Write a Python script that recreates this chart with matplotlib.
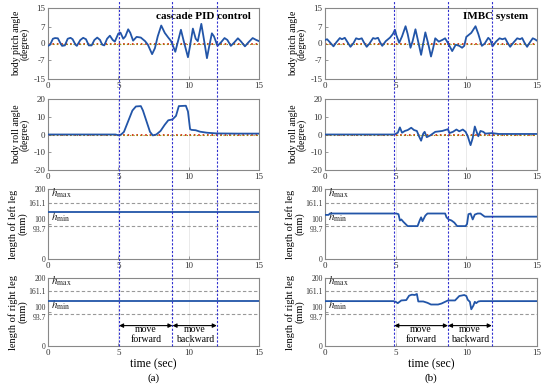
import matplotlib
matplotlib.use("Agg")
import matplotlib.pyplot as plt
import matplotlib.transforms as mtransforms
from matplotlib.lines import Line2D

plt.rcParams['font.family'] = ['Liberation Serif', 'DejaVu Serif']
plt.rcParams['mathtext.fontset'] = 'stix'
plt.rcParams['axes.unicode_minus'] = False

# ---------------- data ----------------
# (a) cascade PID control
pitch_a_t = [0, 0.15, 0.35, 0.5, 0.7, 0.85, 1.0, 1.2, 1.4, 1.6, 1.75, 1.95, 2.05, 2.3, 2.5, 2.7, 2.9,
             3.1, 3.3, 3.5, 3.7, 3.85, 4.0, 4.2, 4.4, 4.6, 4.75, 5.0, 5.15, 5.35, 5.5, 5.7, 5.85, 6.05,
             6.3, 6.6, 6.9, 7.1, 7.4, 7.6, 7.8, 8.05, 8.3, 8.55, 8.75, 9.05, 9.2, 9.45, 9.65, 9.95,
             10.1, 10.3, 10.5, 10.65, 10.9, 11.05, 11.3, 11.45, 11.65, 11.8, 12.05, 12.3, 12.55,
             12.75, 13.0, 13.25, 13.5, 13.7, 14.0, 14.25, 14.55, 14.8, 15.0]
pitch_a_v = [-1.0, -0.5, 2.0, 2.3, 2.2, 0.5, -1.0, -0.8, 2.0, 2.4, 1.8, -0.5, -1.0, 1.5, 2.4, 1.8, -0.8,
             -0.8, 1.5, 2.5, 1.5, -0.5, -0.8, 2.0, 3.3, 1.5, 0.8, 4.2, 4.6, 2.0, 3.0, 6.0, 4.5, 1.2,
             2.8, 2.5, 1.0, -0.5, -4.5, -2.0, 3.0, 7.6, 4.5, 2.5, 1.0, -3.5, 0.0, 5.8, 1.0, -5.8,
             -1.0, 6.3, 2.0, 1.0, 8.3, 3.0, -6.2, -1.5, 4.3, 3.0, -1.0, 0.5, 2.3,
             1.5, -1.0, 0.5, 2.2, 1.0, -1.2, 0.5, 2.3, 1.5, 1.0]

roll_a_t = [0, 4.8, 5.0, 5.2, 5.4, 5.7, 6.0, 6.25, 6.6, 6.75, 7.0, 7.25, 7.45, 7.7, 8.0, 8.3, 8.55,
            8.85, 9.1, 9.3, 9.8, 9.95, 10.1, 10.2, 10.5, 10.8, 11.3, 12.0, 13.5, 15.0]
roll_a_v = [0.0, 0.0, -0.4, 0.0, 1.5, 7.5, 13.5, 15.8, 16.0, 13.5, 7.5, 1.5, -0.5, 0.0, 2.0, 5.5, 8.0,
            8.5, 10.5, 16.0, 16.2, 13.0, 3.0, 2.6, 2.4, 1.6, 1.0, 0.6, 0.5, 0.5]

left_a_t = [0, 15]
left_a_v = [133, 133]
right_a_t = [0, 15]
right_a_v = [131, 131]

# (b) IMBC system
pitch_b_t = [0.0, 0.15, 0.35, 0.6, 0.8, 1.05, 1.2, 1.4, 1.6, 1.8, 2.0, 2.2, 2.4, 2.6, 2.75, 2.95,
             3.15, 3.4, 3.55, 3.75, 3.9, 4.05, 4.3, 4.6, 4.8, 4.95, 5.05, 5.25, 5.45, 5.7, 5.85,
             6.05, 6.2, 6.4, 6.55, 6.8, 6.95, 7.1, 7.3, 7.5, 7.65, 7.8, 8.05, 8.3, 8.5, 8.7, 9.0,
             9.25, 9.5, 9.7, 9.85, 10.0, 10.35, 10.65, 10.85, 11.1, 11.3, 11.55, 11.7, 11.85,
             12.1, 12.35, 12.55, 12.75, 12.9, 13.1, 13.35, 13.6, 13.8, 13.95, 14.1, 14.3, 14.5,
             14.7, 14.85, 15.0]
pitch_b_v = [1.5, 1.8, 0.5, -1.2, 0.5, 2.3, 1.8, 2.4, 0.5, -1.4, 0.0, 2.2, 1.8, 2.2, 0.5, -1.4,
             0.0, 2.3, 2.0, 2.4, 0.5, -1.0, 1.0, 2.5, 4.0, 5.8, 3.5, 0.3, 3.0, 7.3, 4.0,
             -1.8, 1.0, 6.0, 2.0, -4.8, 0.0, 4.7, 0.0, -5.5, -2.0, 2.2, 0.8, 1.5, 2.2, 0.2, -3.2,
             -0.5, -1.0, -1.8, -1.0, 2.8, 4.5, 7.3, 4.0, -1.0, 0.0, 2.4, 1.5, -1.2,
             0.8, 2.2, 1.8, 2.2, 0.5, -1.4, 0.5, 2.2, 1.8, 2.3, 0.5, -1.4, 0.5,
             2.2, 1.8, 1.2]

roll_b_t = [0, 4.9, 5.15, 5.3, 5.45, 5.65, 5.85, 6.1, 6.3, 6.5, 6.65, 6.8, 6.95, 7.05, 7.2, 7.45,
            7.8, 8.3, 8.7, 8.8, 9.05, 9.3, 9.5, 9.75, 9.95, 10.1, 10.3, 10.45, 10.6, 10.75, 10.85,
            11.0, 11.2, 11.35, 11.8, 12.3, 15.0]
roll_b_v = [0.0, 0.0, 1.0, 4.0, 1.0, 2.0, 2.5, 3.8, 2.5, 2.0, -1.0, -3.5, 0.5, 1.5, -1.5, -0.5,
            1.5, 2.0, 3.0, 0.8, 1.5, 2.8, 1.8, 2.8, 1.5, -1.0, -6.0, -2.0, 4.5, 1.0, -1.0,
            2.0, 1.5, 0.5, 0.8, 0.3, 0.3]

left_b_t = [0, 0.25, 0.35, 5.05, 5.2, 5.3, 5.4, 5.55, 5.85, 6.55, 6.7, 6.8, 6.9, 7.1, 7.25, 8.5,
            8.6, 8.75, 8.95, 9.15, 9.35, 9.95, 10.05, 10.15, 10.3, 10.45, 10.6, 10.8, 11.0, 11.3, 15.0]
left_b_v = [126, 126, 130, 130, 128, 110, 113, 106, 94, 94, 110, 119, 108, 124, 130, 130,
            119, 113, 110, 104, 94, 94, 100, 128, 130, 113, 127, 130, 130, 121, 121]

right_b_t = [0, 4.85, 5.0, 5.15, 5.4, 5.75, 5.95, 6.15, 6.35, 6.5, 6.6, 6.95, 7.25, 7.5, 8.0, 8.25,
             8.5, 8.7, 9.2, 9.5, 9.85, 10.0, 10.1, 10.25, 10.35, 10.5, 10.6, 10.7, 10.85, 11.0, 15.0]
right_b_v = [132, 132, 130, 126, 134, 135, 148, 151, 150, 153, 131, 131, 127, 122, 122, 125,
             130, 134, 134, 147, 150, 147, 136, 130, 108, 119, 130, 126, 131, 132, 132]

events_a = [5.05, 8.85, 12.0]
events_b = [4.9, 8.7, 11.8]
titles = ["cascade PID control", "IMBC system"]
panel_tags = ["(a)", "(b)"]
h_max, h_min = 161.1, 93.7
leg_ticks = [0, 93.7, 100, 161.1, 200]
pitch_ticks = [-15, -7, 0, 7, 15]
roll_ticks = [-20, -10, 0, 10, 20]
x_ticks = [0, 5, 10, 15]
row_labels = ["body pitch angle\n(degree)", "body roll angle\n(degree)",
              "length of left leg\n(mm)", "length of right leg\n(mm)"]

# ---------------- figure ----------------
W, H = 550, 385
fig = plt.figure(figsize=(W / 100, H / 100), dpi=100)

col_x = [48, 325]
col_w = [211, 212]
row_px = [(8, 79), (99, 170), (189, 259), (278, 346)]

line_col = '#2255a8'
ev_col = '#3030d0'
spine_col = '#888888'

cols = [
    dict(pitch=(pitch_a_t, pitch_a_v), roll=(roll_a_t, roll_a_v),
         left=(left_a_t, left_a_v), right=(right_a_t, right_a_v), ev=events_a),
    dict(pitch=(pitch_b_t, pitch_b_v), roll=(roll_b_t, roll_b_v),
         left=(left_b_t, left_b_v), right=(right_b_t, right_b_v), ev=events_b),
]

for c, cd in enumerate(cols):
    axes = []
    for r in range(4):
        top, bot = row_px[r]
        ax = fig.add_axes([col_x[c] / W, 1 - bot / H, col_w[c] / W, (bot - top) / H])
        axes.append(ax)
        ax.set_xlim(0, 15)
        ax.set_xticks(x_ticks)
        for s in ax.spines.values():
            s.set_color(spine_col)
            s.set_linewidth(0.8)
        ax.tick_params(direction='in', length=2, width=0.6, colors=spine_col,
                       labelsize=6.5, labelcolor='#333333', pad=2)
        ax.grid(True, axis='x', color='#e6e6e6', lw=0.6)
        ax.set_axisbelow(True)

        key = ['pitch', 'roll', 'left', 'right'][r]
        t, v = cd[key]
        if r < 2:
            ax.axhline(0, color='#d02000', ls=':', lw=1.2, zorder=2)
            ax.axhline(0, color='#8a9a00', ls=(1.5, (1, 2)), lw=0.8, zorder=2)
            if r == 0:
                ax.set_ylim(-15, 15)
                ax.set_yticks(pitch_ticks)
            else:
                ax.set_ylim(-20, 20)
                ax.set_yticks(roll_ticks)
            ax.plot(t, v, color=line_col, lw=1.3, zorder=3, solid_joinstyle='round')
            ax.set_ylabel(row_labels[r], fontsize=7, linespacing=0.95)
            ax.yaxis.set_label_coords(-0.085, 0.5)
        else:
            ax.set_ylim(0, 200)
            ax.set_yticks(leg_ticks)
            ax.set_yticklabels(['0', '93.7', '100', '161.1', '200'])
            ax.tick_params(axis='y', labelsize=5.5, pad=1.5)
            lbls = ax.get_yticklabels()
            lbls[1].set_verticalalignment('top')
            lbls[2].set_verticalalignment('bottom')
            ax.axhline(h_max, color='#999999', ls='--', lw=0.8, dashes=(3, 2))
            ax.axhline(h_min, color='#999999', ls='--', lw=0.8, dashes=(3, 2))
            ax.text(0.2, 170, r'$h_{\max}$', fontsize=8, ha='left', va='bottom', color='#222222')
            ax.text(0.2, 99, r'$h_{\min}$', fontsize=8, ha='left', va='bottom', color='#222222')
            ax.plot(t, v, color=line_col, lw=1.3, zorder=3, solid_joinstyle='round')
            ax.set_ylabel(row_labels[r], fontsize=7.5, linespacing=1.1)
            ax.yaxis.set_label_coords(-0.095, 0.5)

    axes[0].text(14.4, 11.2, titles[c], fontsize=8, fontweight='bold', ha='right', va='center')

    ev = cd['ev']
    bax = axes[3]
    for a, b, lab in [(ev[0], ev[1], "move\nforward"), (ev[1], ev[2], "move\nbackward")]:
        bax.annotate('', xy=(a, 60), xytext=(b, 60),
                     arrowprops=dict(arrowstyle='<|-|>', color='black', lw=0.8,
                                     mutation_scale=6, shrinkA=0, shrinkB=0))
        bax.text((a + b) / 2, 33, lab, fontsize=7, ha='center', va='center', linespacing=1.1)

    bax.set_xlabel("time (sec)", fontsize=8.5, labelpad=1)
    fig.text((col_x[c] + col_w[c] / 2) / W, 1 - 378 / H, panel_tags[c], fontsize=8,
             ha='center', va='center')

    trans = mtransforms.blended_transform_factory(bax.transData, fig.transFigure)
    y_bot = 1 - row_px[3][1] / H
    for e in ev:
        fig.add_artist(Line2D([e, e], [y_bot, 1.0], transform=trans, color=ev_col,
                              lw=0.8, ls=(0, (2, 1.5)), zorder=10))

fig.savefig("out.png", dpi=100)
